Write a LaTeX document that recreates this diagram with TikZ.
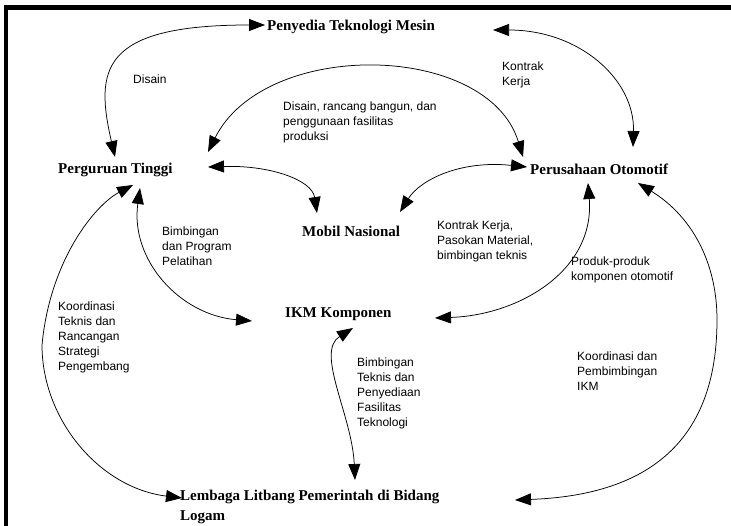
\documentclass[tikz,border=0pt]{standalone}
\usepackage{fontspec}
\setmainfont{Liberation Serif}
\newfontfamily\lblfont{Liberation Sans}
\usetikzlibrary{arrows.meta}
\begin{document}
\begin{tikzpicture}[x=1pt,y=-1pt,
  ent/.style={font=\bfseries\fontsize{15}{20}\selectfont, inner sep=0pt, anchor=base west},
  entml/.style={font=\bfseries\fontsize{15}{20}\selectfont, inner sep=0pt, anchor=north west, align=left},
  lbl/.style={font=\lblfont\fontsize{12}{15}\selectfont, inner sep=0pt, anchor=north west, align=left},
  conn/.style={line width=0.75pt, {Triangle[length=16pt,width=12pt]}-{Triangle[length=16pt,width=12pt]}}]
\useasboundingbox (0,0) rectangle (731,526);
% frame
\fill (4,5) rectangle (731,10);
\fill (4,5) rectangle (8,526);
% entities
\node[ent] (PTM) at (267,31) {Penyedia Teknologi Mesin};
\node[ent] (PT) at (58,174) {Perguruan Tinggi};
\node[ent] (PO) at (530,175) {Perusahaan Otomotif};
\node[ent] (MN) at (302,237) {Mobil Nasional};
\node[ent] (IKM) at (285,318) {IKM Komponen};
\node[entml] (LLP) at (180,489.5) {Lembaga Litbang Pemerintah di Bidang\\Logam};
% labels
\node[lbl] (l1) at (133,74.5) {Disain};
\node[lbl] (l2) at (502,61.5) {Kontrak\\Kerja};
\node[lbl] (l3) at (283,101.5) {Disain, rancang bangun, dan\\penggunaan fasilitas\\produksi};
\node[lbl] (l4) at (162,226.5) {Bimbingan\\dan Program\\Pelatihan};
\node[lbl] (l5) at (437,220.5) {Kontrak Kerja,\\Pasokan Material,\\bimbingan teknis};
\node[lbl] (l6) at (571,256.5) {Produk-produk\\komponen otomotif};
\node[lbl] (l7) at (58,301.5) {Koordinasi\\Teknis dan\\Rancangan\\Strategi\\Pengembang};
\node[lbl] (l8) at (357,357.5) {Bimbingan\\Teknis dan\\Penyediaan\\Fasilitas\\Teknologi};
\node[lbl] (l9) at (577,351.5) {Koordinasi dan\\Pembimbingan\\IKM};
% connectors
\draw[conn] ([shift={(57,-17)}]PT.base west) .. controls (95,70) and (100,25) .. ([shift={(-2,-6)}]PTM.base west);
\draw[conn] ([shift={(226,-1)}]PTM.base west) .. controls (580,30) and (635,80) .. ([shift={(103,-28)}]PO.base west);
\draw[conn] ([shift={(150,-22)}]PT.base west) .. controls (265,38) and (488,42) .. ([shift={(-7,-18)}]PO.base west);
\draw[conn] ([shift={(150,-7)}]PT.base west) .. controls (270,165) and (312,180) .. ([shift={(15,-24)}]MN.base west);
\draw[conn] ([shift={(-3,-8)}]PO.base west) .. controls (460,160) and (420,180) .. ([shift={(98,-25)}]MN.base west);
\draw[conn] ([shift={(82,14)}]PT.base west) .. controls (130,260) and (180,315) .. ([shift={(-33,3)}]IKM.base west);
\draw[conn] ([shift={(75,11)}]PT.base west) .. controls (95,205) and (50,260) .. (42,345) .. controls (42,420) and (100,488) .. ([shift={(2,8.5)}]LLP.north west);
\draw[conn] ([shift={(58,8)}]PO.base west) .. controls (595,270) and (520,315) .. ([shift={(150,0)}]IKM.base west);
\draw[conn] ([shift={(68,10)}]IKM.base west) .. controls (315,352) and (352,415) .. ([shift={(175,-9.5)}]LLP.north west);
\draw[conn] ([shift={(108,8)}]PO.base west) .. controls (690,215) and (717,260) .. (717,320) .. controls (717,440) and (650,495) .. ([shift={(335,10.5)}]LLP.north west);
\end{tikzpicture}
\end{document}
